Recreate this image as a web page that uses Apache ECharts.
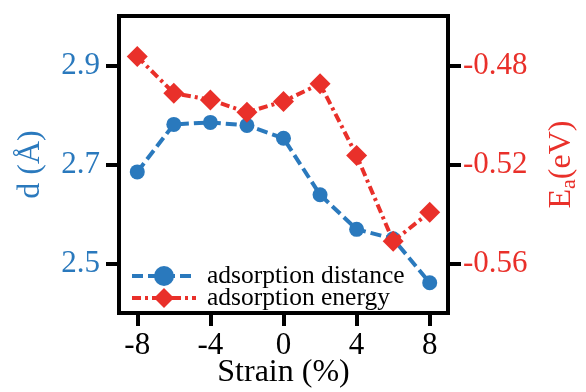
<!DOCTYPE html>
<html>
<head>
<meta charset="utf-8">
<script src="https://cdn.jsdelivr.net/npm/echarts@6/dist/echarts.min.js"></script>
<style>
  html, body { margin: 0; padding: 0; background: #fff; }
  #chart { width: 586px; height: 392px; }
</style>
</head>
<body>
<div id="chart"></div>
<script>
// Strain (%) applied to the substrate
const strain = [-8, -6, -4, -2, 0, 2, 4, 6, 8];
// Adsorption distance d (Å)
const distance = [2.685, 2.781, 2.785, 2.779, 2.753, 2.639, 2.569, 2.550, 2.461];
// Adsorption energy E_a (eV)
const energy = [-0.4764, -0.4912, -0.4939, -0.4989, -0.4945, -0.4874, -0.5164, -0.5510, -0.5393];

const xTicks = [-8, -4, 0, 4, 8];
const dTicks = [2.5, 2.7, 2.9];
const eTicks = [-0.48, -0.52, -0.56];

const BLUE = '#2a79bd';
const RED = '#e9302a';
const FONT = 'Liberation Serif';

const chart = echarts.init(document.getElementById('chart'), null, { renderer: 'canvas' });

const tickStyle = { show: true, inside: false, length: 13, lineStyle: { color: '#000', width: 4 } };
const noLine = { show: false, onZero: false };

// one legend per series so the two rows sit close together
const legendBase = {
  left: 125, orient: 'vertical',
  itemWidth: 64, itemHeight: 25,
  lineStyle: { width: 4 },
  textStyle: { fontFamily: FONT, fontSize: 25.5, color: '#000', padding: [0, 0, 0, 6] }
};

chart.setOption({
  animation: false,
  backgroundColor: '#fff',
  grid: {
    left: 119, right: 138, top: 16, bottom: 79,
    containLabel: false, outerBoundsMode: 'none',
    show: true, borderColor: '#000', borderWidth: 4, backgroundColor: 'transparent'
  },
  legend: [
    Object.assign({ top: 258, data: ['adsorption distance'] }, legendBase),
    Object.assign({ top: 280, data: ['adsorption energy'] }, legendBase)
  ],
  xAxis: {
    type: 'value', min: -9, max: 9,
    axisLine: noLine,
    axisTick: Object.assign({ customValues: xTicks }, tickStyle),
    splitLine: { show: false },
    axisLabel: { customValues: xTicks, margin: 17, fontFamily: FONT, fontSize: 31, color: '#000' },
    name: 'Strain (%)', nameLocation: 'middle', nameGap: 44, nameMoveOverlap: false,
    nameTextStyle: { fontFamily: FONT, fontSize: 32, color: '#000' }
  },
  yAxis: [
    {
      type: 'value', min: 2.4, max: 3.0, position: 'left',
      axisLine: noLine,
      axisTick: Object.assign({ customValues: dTicks }, tickStyle),
      splitLine: { show: false },
      axisLabel: { customValues: dTicks, margin: 19, fontFamily: FONT, fontSize: 31, color: BLUE,
        formatter: v => v.toFixed(1) },
      name: 'd (Å)', nameLocation: 'middle', nameRotate: 90, nameGap: 72, nameMoveOverlap: false,
      nameTextStyle: { fontFamily: FONT, fontSize: 32, color: BLUE }
    },
    {
      type: 'value', min: -0.58, max: -0.46, position: 'right',
      axisLine: noLine,
      axisTick: Object.assign({ customValues: eTicks }, tickStyle),
      splitLine: { show: false },
      axisLabel: { customValues: eTicks, margin: 15, fontFamily: FONT, fontSize: 31, color: RED,
        formatter: v => v.toFixed(2) },
      name: '{m|E}{s|a}{m|(eV)}', nameLocation: 'middle', nameRotate: 90, nameGap: 96, nameMoveOverlap: false,
      nameTextStyle: {
        fontFamily: FONT, fontSize: 32, color: RED,
        rich: {
          m: { fontFamily: FONT, fontSize: 32, color: RED },
          s: { fontFamily: FONT, fontSize: 22, color: RED, verticalAlign: 'bottom', padding: [14, 0, 0, 0] }
        }
      }
    }
  ],
  series: [
    {
      name: 'adsorption distance', type: 'line', yAxisIndex: 0,
      data: strain.map((s, i) => [s, distance[i]]),
      symbol: 'circle', symbolSize: 15,
      itemStyle: { color: BLUE },
      lineStyle: { color: BLUE, width: 4, type: [11, 5] },
      z: 2
    },
    {
      name: 'adsorption energy', type: 'line', yAxisIndex: 1,
      data: strain.map((s, i) => [s, energy[i]]),
      symbol: 'diamond', symbolSize: 21,
      itemStyle: { color: RED },
      lineStyle: { color: RED, width: 4, type: [9, 4, 3, 4] },
      z: 3
    }
  ]
});
</script>
</body>
</html>
